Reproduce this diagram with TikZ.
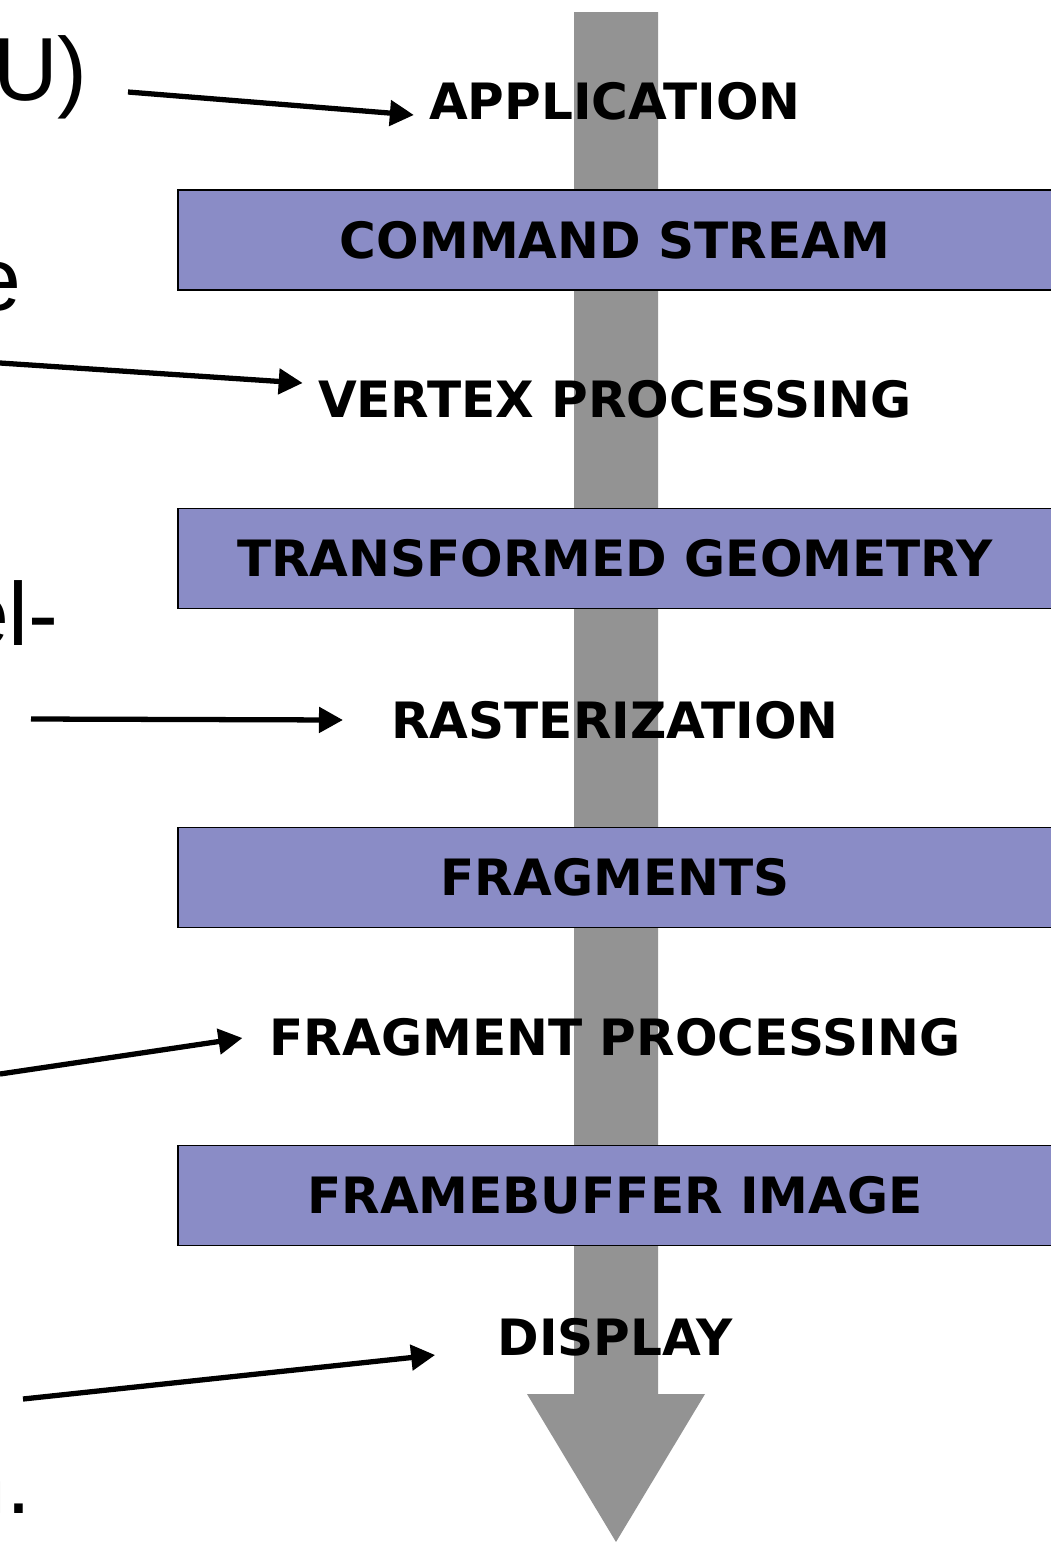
\documentclass[tikz,border=0pt]{standalone}
\usepackage{fontspec}
\setsansfont{DejaVu Sans}
\newfontfamily\slidefont{Liberation Sans}
\usetikzlibrary{arrows.meta,calc}
\definecolor{stagefill}{RGB}{138,140,198}
\definecolor{flowgray}{RGB}{147,147,147}

\begin{document}
\begin{tikzpicture}[x=0.02cm,y=-0.02cm,
	stage/.style={font=\sffamily\bfseries\fontsize{28.5}{30}\selectfont, inner sep=0pt},
	data/.style={stage, draw=black, line width=1.1pt, fill=stagefill, minimum width=17.48cm, minimum height=2cm},
	frag/.style={font=\slidefont\fontsize{51}{55}\selectfont, inner sep=0pt, anchor=base east},
	conn/.style={line width=3pt, -{Triangle[length=0.48cm,width=0.5cm]}}]
			\useasboundingbox (0,0) rectangle (1051,1542);
			\clip (0,0) rectangle (1051,1542);
			% the big grey arrow down the middle
			\fill[flowgray] (574,12) -- (658,12) -- (658,1394) -- (705,1394) -- (616,1542) -- (527,1394) -- (574,1394) -- cycle;
			\node[stage] (app) at (615,101) {APPLICATION};
			\node[data] (cmd) at (615,240) {COMMAND STREAM};
			\node[stage] (vertex) at (615,399) {VERTEX PROCESSING};
			\node[data] (geom) at (615,558.5) {TRANSFORMED GEOMETRY};
			\node[stage] (raster) at (615,720) {RASTERIZATION};
			\node[data] (frags) at (615,877.5) {FRAGMENTS};
			\node[stage] (fragproc) at (615,1037) {FRAGMENT PROCESSING};
			\node[data] (fbimg) at (615,1195.5) {FRAMEBUFFER IMAGE};
			\node[stage] (display) at (615,1337) {DISPLAY};
			% cut-off slide text on the left
			\node[frag] (gpu) at (88,100) {U)};
			\node[frag] (stagetxt) at (22,310) {e};
			\node[frag] (pixel) at (59,645) {el-};
			\node[frag] (screen) at (32,1513) {n.};
			\coordinate (a1) at (128,92);
			\coordinate (a2) at (0,363);
			\coordinate (a3) at (31,719);
			\coordinate (a4) at (0,1074);
			\coordinate (a5) at (23,1399);
			\draw[conn] (a1) -- ($(app.west)+(-15,14)$);
			\draw[conn] (a2) -- ($(vertex.west)+(-15,-16)$);
			\draw[conn] (a3) -- ($(raster.west)+(-48,0)$);
			\draw[conn] (a4) -- ($(fragproc.west)+(-27,1)$);
			\draw[conn] (a5) -- ($(display.west)+(-62,18)$);
			%\draw[conn] (a5) -- (display.west);
			\end{tikzpicture}
\end{document}
